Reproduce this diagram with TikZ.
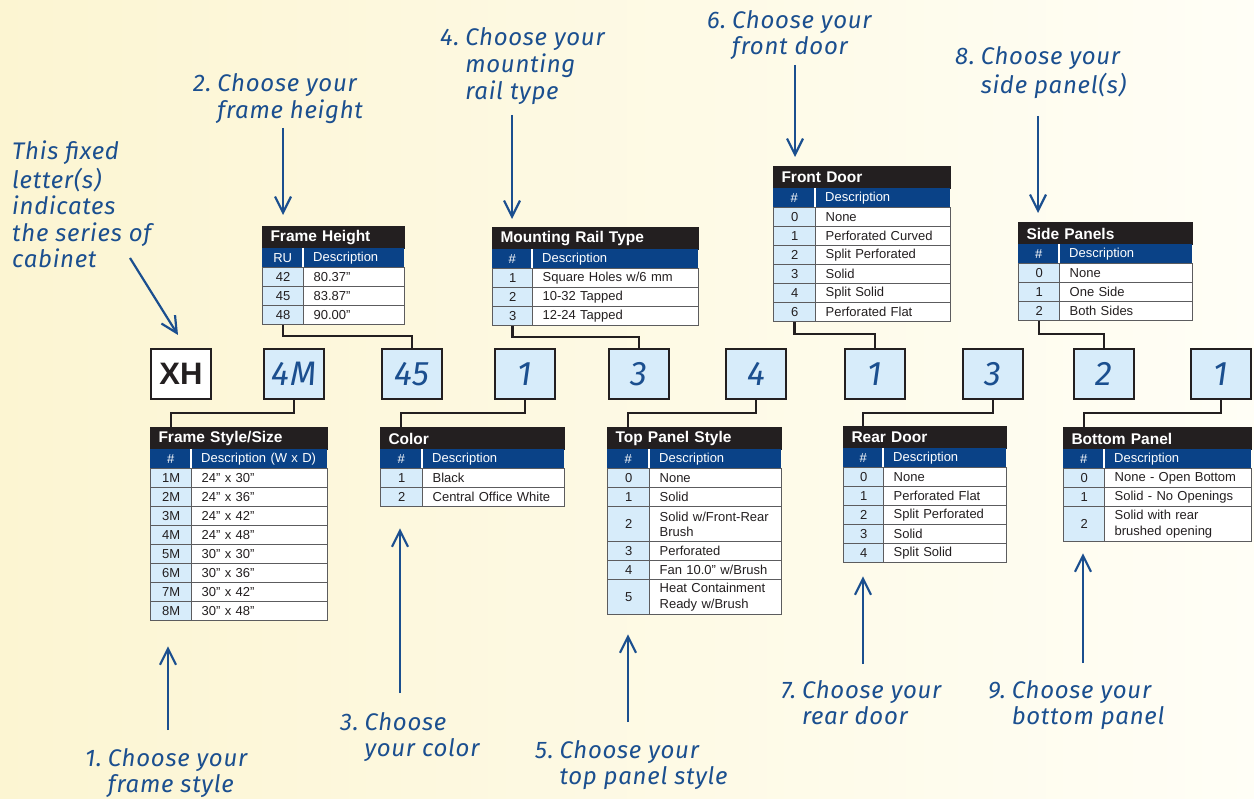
\documentclass[tikz,border=0pt]{standalone}
\usepackage{fontspec}
\setmainfont{Liberation Sans}
\newfontfamily\hand[LetterSpace=3]{Fira Sans}
\usetikzlibrary{arrows.meta}
\definecolor{bgL}{HTML}{FCF5D2}
\definecolor{bgR}{HTML}{FFFEF6}
\definecolor{tdark}{HTML}{231F20}
\definecolor{hblue}{HTML}{0A4287}
\definecolor{lblue}{HTML}{D7ECFA}
\definecolor{gline}{HTML}{5C5C5E}
\definecolor{ablue}{HTML}{1B4F8F}
\definecolor{txt}{HTML}{231F20}
\newcommand\tabhead[8]{%
  \pgfmathsetmacro\tbW{#4+#5}%
  \pgfmathsetmacro\tbTW{#4+#5-16}%
  \pgfmathsetmacro\tbXB{#2+#4}%
  \pgfmathsetmacro\tbYH{#3+22}%
  \pgfmathsetmacro\tbDW{#5-20}%
  \node[ttl, minimum width=\tbW pt, text width=\tbTW pt] (#1t) at (#2,#3) {#6};
  \node[hnum, minimum width=#4pt] (#1ha) at (#2,\tbYH) {#7};
  \node[hdesc, minimum width=#5pt, text width=\tbDW pt] (#1hb) at (\tbXB,\tbYH) {#8};
  \draw[white, line width=1.5pt] (#1hb.north west) -- (#1hb.south west);
}
\newcommand\tabrow[8]{%
  \pgfmathsetmacro\tbXB{#2+#4}%
  \pgfmathsetmacro\tbDW{#5-20}%
  \node[cnum, minimum width=#4pt, minimum height=#6pt] (#1a) at (#2,#3) {#7};
  \node[cdesc, minimum width=#5pt, minimum height=#6pt, text width=\tbDW pt] (#1b) at (\tbXB,#3) {#8};
}
\begin{document}
\begin{tikzpicture}[x=1pt,y=-1pt,
 ttl/.style={fill=tdark, draw=tdark, line width=1pt, text=white, font=\bfseries\fontsize{15.5}{17}\selectfont, anchor=north west, inner xsep=8pt, inner ysep=0pt, minimum height=22pt, align=left},
 hnum/.style={fill=hblue, text=white, anchor=north west, inner sep=0pt, minimum height=19pt, font=\fontsize{13}{15}\selectfont},
 hdesc/.style={hnum, inner xsep=10pt, align=left},
 cnum/.style={fill=lblue, draw=gline, line width=1.3pt, text=txt, anchor=north west, inner sep=0pt, font=\fontsize{13}{15.5}\selectfont},
 cdesc/.style={fill=white, draw=gline, line width=1.3pt, text=txt, anchor=north west, inner xsep=10pt, inner ysep=0pt, align=left, font=\fontsize{13}{15.5}\selectfont},
 codebox/.style={draw=tdark, line width=2.6pt, fill=lblue, minimum width=60pt, minimum height=50pt, inner sep=0pt, text=ablue, font=\hand\itshape\fontsize{34}{34}\selectfont},
 link/.style={draw=tdark, line width=2.4pt},
 arr/.style={draw=ablue, line width=2.2pt, -{Straight Barb[length=16pt,width=16pt]}},
 note/.style={text=ablue, font=\hand\itshape\fontsize{24}{26}\selectfont, inner sep=0pt, anchor=base west},
]
\useasboundingbox (0,0) rectangle (1254,799);
\fill[left color=bgL, right color=bgR] (0,0) rectangle (1254,799);

% ---- code boxes ----
\node[codebox, fill=white, text=txt, font=\bfseries\fontsize{31}{31}\selectfont] (bXH) at (181,374) {XH};
\node[codebox] (bFS) at (294,374) {4M};
\node[codebox] (bFH) at (412,374) {45};
\node[codebox] (bCO) at (525,374) {1};
\node[codebox] (bMR) at (639,374) {3};
\node[codebox] (bTP) at (756,374) {4};
\node[codebox] (bFD) at (875,374) {1};
\node[codebox] (bRD) at (993,374) {3};
\node[codebox] (bSP) at (1104,374) {2};
\node[codebox] (bBP) at (1221,374) {1};

% ---- Frame Height ----
\tabhead{fh}{262}{226}{41}{101}{Frame Height}{RU}{Description}
\tabrow{fh1}{262}{267}{41}{101}{19}{42}{80.37"}
\tabrow{fh2}{262}{286}{41}{101}{19}{45}{83.87"}
\tabrow{fh3}{262}{305}{41}{101}{19}{48}{90.00"}

% ---- Frame Style/Size ----
\tabhead{fs}{150}{427}{41}{136}{Frame Style/Size}{\#}{Description (W x D)}
\tabrow{fs1}{150}{468}{41}{136}{19}{1M}{24" x 30"}
\tabrow{fs2}{150}{487}{41}{136}{19}{2M}{24" x 36"}
\tabrow{fs3}{150}{506}{41}{136}{19}{3M}{24" x 42"}
\tabrow{fs4}{150}{525}{41}{136}{19}{4M}{24" x 48"}
\tabrow{fs5}{150}{544}{41}{136}{19}{5M}{30" x 30"}
\tabrow{fs6}{150}{563}{41}{136}{19}{6M}{30" x 36"}
\tabrow{fs7}{150}{582}{41}{136}{19}{7M}{30" x 42"}
\tabrow{fs8}{150}{601}{41}{136}{19}{8M}{30" x 48"}

% ---- Color ----
\tabhead{co}{380}{427}{42}{142}{Color}{\#}{Description}
\tabrow{co1}{380}{468}{42}{142}{19}{1}{Black}
\tabrow{co2}{380}{487}{42}{142}{19}{2}{Central Office White}

% ---- Mounting Rail Type ----
\tabhead{mr}{492}{227}{40}{166}{Mounting Rail Type}{\#}{Description}
\tabrow{mr1}{492}{268}{40}{166}{19}{1}{Square Holes w/6 mm}
\tabrow{mr2}{492}{287}{40}{166}{19}{2}{10-32 Tapped}
\tabrow{mr3}{492}{306}{40}{166}{19}{3}{12-24 Tapped}

% ---- Top Panel Style ----
\tabhead{tp}{607}{427}{42}{132}{Top Panel Style}{\#}{Description}
\tabrow{tp1}{607}{468}{42}{132}{19}{0}{None}
\tabrow{tp2}{607}{487}{42}{132}{19}{1}{Solid}
\tabrow{tp3}{607}{506}{42}{132}{35}{2}{Solid w/Front-Rear\\Brush}
\tabrow{tp4}{607}{541}{42}{132}{19}{3}{Perforated}
\tabrow{tp5}{607}{560}{42}{132}{19}{4}{Fan 10.0" w/Brush}
\tabrow{tp6}{607}{579}{42}{132}{35}{5}{Heat Containment\\Ready w/Brush}

% ---- Front Door ----
\tabhead{fd}{773}{166}{42}{135}{Front Door}{\#}{Description}
\tabrow{fd1}{773}{207}{42}{135}{19}{0}{None}
\tabrow{fd2}{773}{226}{42}{135}{19}{1}{Perforated Curved}
\tabrow{fd3}{773}{245}{42}{135}{19}{2}{Split Perforated}
\tabrow{fd4}{773}{264}{42}{135}{19}{3}{Solid}
\tabrow{fd5}{773}{283}{42}{135}{19}{4}{Split Solid}
\tabrow{fd6}{773}{302}{42}{135}{19}{6}{Perforated Flat}

% ---- Rear Door ----
\tabhead{rd}{843}{426}{40}{123}{Rear Door}{\#}{Description}
\tabrow{rd1}{843}{467}{40}{123}{19}{0}{None}
\tabrow{rd2}{843}{486}{40}{123}{19}{1}{Perforated Flat}
\tabrow{rd3}{843}{505}{40}{123}{19}{2}{Split Perforated}
\tabrow{rd4}{843}{524}{40}{123}{19}{3}{Solid}
\tabrow{rd5}{843}{543}{40}{123}{19}{4}{Split Solid}

% ---- Side Panels ----
\tabhead{sp}{1018}{222}{41}{133}{Side Panels}{\#}{Description}
\tabrow{sp1}{1018}{263}{41}{133}{19}{0}{None}
\tabrow{sp2}{1018}{282}{41}{133}{19}{1}{One Side}
\tabrow{sp3}{1018}{301}{41}{133}{19}{2}{Both Sides}

% ---- Bottom Panel ----
\tabhead{bp}{1063}{427}{41}{147}{Bottom Panel}{\#}{Description}
\tabrow{bp1}{1063}{468}{41}{147}{19}{0}{None - Open Bottom}
\tabrow{bp2}{1063}{487}{41}{147}{19}{1}{Solid - No Openings}
\tabrow{bp3}{1063}{506}{41}{147}{35}{2}{Solid with rear\\brushed opening}

% ---- connectors ----
\draw[link] (fh3a.south) -- ++(0,11) -| (bFH.north);
\draw[link] (bFS.south) -- ++(0,13) -| (fsha |- fst.north);
\draw[link] (bCO.south) -- ++(0,13) -| (coha |- cot.north);
\draw[link] (mr3a.south) -- ++(0,11) -| (bMR.north);
\draw[link] (bTP.south) -- ++(0,13) -| (tpha |- tpt.north);
\draw[link] (fd6a.south) -- ++(0,12) -| (bFD.north);
\draw[link] (bRD.south) -- ++(0,13) -| (rdha |- rdt.north);
\draw[link] (sp3a.south) -- ++(0,13) -| (bSP.north);
\draw[link] (bBP.south) -- ++(0,13) -| (bpha |- bpt.north);

% ---- notes ----
\node[note] (nXH) at (12,160) {\begin{tabular}[t]{@{}l@{}}This fixed\\letter(s)\\indicates\\the series of\\cabinet\end{tabular}};
\node[note] (n2) at (193,92) {\begin{tabular}[t]{@{}l@{\hspace{6pt}}l@{}}2.&Choose your\\&frame height\end{tabular}};
\node[note] (n4) at (440,46) {\begin{tabular}[t]{@{}l@{\hspace{6pt}}l@{}}4.&Choose your\\&mounting\\&rail type\end{tabular}};
\node[note] (n6) at (707,29) {\begin{tabular}[t]{@{}l@{\hspace{6pt}}l@{}}6.&Choose your\\&front door\end{tabular}};
\node[note] (n8) at (955,65) {\begin{tabular}[t]{@{}l@{\hspace{6pt}}l@{}}8.&Choose your\\&side panel(s)\end{tabular}};
\node[note] (n1) at (85,766) {\begin{tabular}[t]{@{}l@{\hspace{6pt}}l@{}}1.&Choose your\\&frame style\end{tabular}};
\node[note] (n3) at (340,730) {\begin{tabular}[t]{@{}l@{\hspace{6pt}}l@{}}3.&Choose\\&your color\end{tabular}};
\node[note] (n5) at (535,758) {\begin{tabular}[t]{@{}l@{\hspace{6pt}}l@{}}5.&Choose your\\&top panel style\end{tabular}};
\node[note] (n7) at (781,698) {\begin{tabular}[t]{@{}l@{\hspace{6pt}}l@{}}7.&Choose your\\&rear door\end{tabular}};
\node[note] (n9) at (988,698) {\begin{tabular}[t]{@{}l@{\hspace{6pt}}l@{}}9.&Choose your\\&bottom panel\end{tabular}};

% ---- arrows ----
\coordinate (axs) at (130,258);
\coordinate (axe) at (178,335);
\draw[arr] (axs) -- (axe);
\coordinate (a2s) at (283,128);
\draw[arr, shorten >=11pt] (a2s) -- (a2s |- fht.north);
\coordinate (a4s) at (512,115);
\draw[arr, shorten >=8pt] (a4s) -- (a4s |- mrt.north);
\coordinate (a6s) at (795,65);
\draw[arr, shorten >=9pt] (a6s) -- (a6s |- fdt.north);
\coordinate (a8s) at (1038,116);
\draw[arr, shorten >=9pt] (a8s) -- (a8s |- spt.north);
\coordinate (a1s) at (168,730);
\draw[arr, shorten >=25pt] (a1s) -- (a1s |- fs8a.south);
\coordinate (a3s) at (400,693);
\draw[arr, shorten >=21pt] (a3s) -- (a3s |- co2a.south);
\coordinate (a5s) at (628,722);
\draw[arr, shorten >=19pt] (a5s) -- (a5s |- tp6a.south);
\coordinate (a7s) at (863,664);
\draw[arr, shorten >=13pt] (a7s) -- (a7s |- rd5a.south);
\coordinate (a9s) at (1083,663);
\draw[arr, shorten >=11pt] (a9s) -- (a9s |- bp3a.south);
\end{tikzpicture}
\end{document}
